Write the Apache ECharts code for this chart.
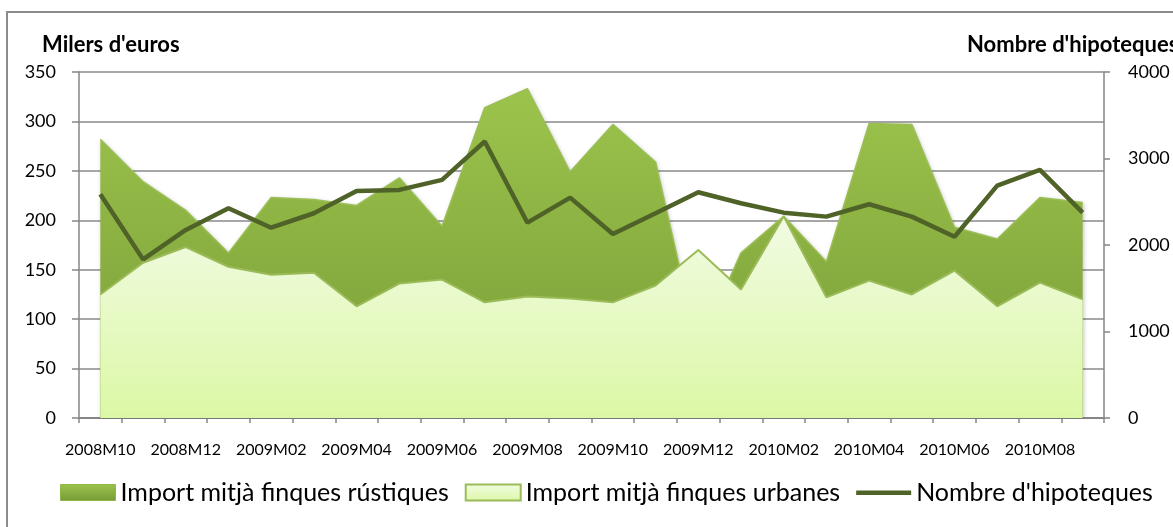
<!DOCTYPE html>
<html>
<head>
<meta charset="utf-8">
<script src="https://cdn.jsdelivr.net/npm/echarts@6/dist/echarts.min.js"></script>
<style>
html,body{margin:0;padding:0;background:#fff;}
#chart{width:1173px;height:527px;}
</style>
</head>
<body>
<div id="chart"></div>
<script>
const categories = [
  "2008M10","2008M11","2008M12","2009M01","2009M02","2009M03","2009M04","2009M05",
  "2009M06","2009M07","2009M08","2009M09","2009M10","2009M11","2009M12","2010M01",
  "2010M02","2010M03","2010M04","2010M05","2010M06","2010M07","2010M08","2010M09"
];
const rustiques = [282,239,210,167,223,221,215,243,194,314,333,249,297,259,70,167,204,158,298,297,193,181,223,218];
const urbanes = [125,157,173,153,145,147,113,136,140,117,123,121,117,134,170,130,204,122,139,125,149,113,137,120];
const hipoteques = [2587,1834,2174,2425,2200,2367,2625,2637,2753,3196,2258,2548,2127,2367,2610,2483,2374,2328,2471,2328,2096,2687,2868,2374];
const leftTicks = {min:0, max:350, interval:50};
const rightTicks = {min:0, max:4000, interval:1000};
const seriesNames = ["Import mitjà finques rústiques","Import mitjà finques urbanes","Nombre d'hipoteques"];
const axisTitles = ["Milers d'euros","Nombre d'hipoteques"];

const FONT = 'Lato, "Open Sans", sans-serif';
const rustGrad = {type:'linear',x:0,y:0,x2:0,y2:1,colorStops:[{offset:0,color:'#9cc44c'},{offset:1,color:'#779b37'}]};
const urbGrad = {type:'linear',x:0,y:0,x2:0,y2:1,colorStops:[{offset:0,color:'#f1fbe3'},{offset:1,color:'#dcf8a6'}]};
const legRust = {type:'linear',x:0,y:0,x2:0,y2:1,colorStops:[{offset:0,color:'#9cc44c'},{offset:1,color:'#779b37'}]};
const legUrb = {type:'linear',x:0,y:0,x2:0,y2:1,colorStops:[{offset:0,color:'#f1fbe3'},{offset:1,color:'#dcf8a6'}]};
const lineIcon = 'path://M0,0L0.01,0L0,0.01Z M0,6L55,6L55,10.5L0,10.5Z M55,16L54.99,16L55,15.99Z';

const chart = echarts.init(document.getElementById('chart'), null, {renderer:'canvas'});
chart.setOption({
  animation:false,
  backgroundColor:'#fff',
  title:[
    {text:axisTitles[0], left:37, top:29, textStyle:{fontFamily:FONT, fontSize:22, fontWeight:'bold', color:'#000'}},
    {text:axisTitles[1], left:962, top:29, textStyle:{fontFamily:FONT, fontSize:22, fontWeight:'bold', color:'#000'}}
  ],
  graphic:[{type:'rect', shape:{x:7,y:12,width:1300,height:700}, style:{fill:'none', stroke:'#8c8c8c', lineWidth:2}, silent:true}],
  grid:{left:79, right:69, top:72, bottom:109, containLabel:false},
  legend:{
    bottom:17, left:55, itemGap:16, itemWidth:55, itemHeight:16,
    textStyle:{fontFamily:FONT, fontSize:25, color:'#000'},
    data:[
      {name:seriesNames[0], icon:'rect', itemStyle:{color:legRust, borderColor:'#8fb447', borderWidth:1}},
      {name:seriesNames[1], icon:'rect', itemStyle:{color:legUrb, borderColor:'#9bbb59', borderWidth:2}},
      {name:seriesNames[2], icon:lineIcon, itemStyle:{color:'#4f6228', borderWidth:0}}
    ]
  },
  xAxis:{
    type:'category', data:categories, boundaryGap:true,
    axisLine:{lineStyle:{color:'#868686', width:2}},
    axisTick:{show:true, interval:0, length:5, lineStyle:{color:'#868686', width:1.5}},
    axisLabel:{interval:1, fontFamily:FONT, fontSize:16, color:'#000', margin:24}
  },
  yAxis:[
    {type:'value', min:leftTicks.min, max:leftTicks.max, interval:leftTicks.interval, position:'left',
     axisLine:{show:true, lineStyle:{color:'#868686', width:1.5}},
     axisTick:{show:true, length:7, lineStyle:{color:'#868686', width:1.5}},
     splitLine:{show:true, lineStyle:{color:'#8a8a8a', width:1.5}},
     axisLabel:{fontFamily:FONT, fontSize:18, color:'#000', margin:23}},
    {type:'value', min:rightTicks.min, max:rightTicks.max, interval:rightTicks.interval, position:'right',
     axisLine:{show:true, lineStyle:{color:'#868686', width:1.5}},
     axisTick:{show:true, length:6, lineStyle:{color:'#868686', width:1.5}},
     splitLine:{show:false},
     axisLabel:{fontFamily:FONT, fontSize:18, color:'#000', margin:24, formatter:(v)=>String(v)}}
  ],
  series:[
    {name:seriesNames[0], type:'line', data:rustiques, yAxisIndex:0, showSymbol:false, symbol:'none',
     lineStyle:{color:'#9bbf55', width:1.5},
     itemStyle:{color:'#8db145'},
     areaStyle:{color:rustGrad, opacity:1, shadowColor:'rgba(0,0,0,0.25)', shadowBlur:4, shadowOffsetX:1, shadowOffsetY:1},
     z:2},
    {name:seriesNames[1], type:'line', data:urbanes, yAxisIndex:0, showSymbol:false, symbol:'none',
     lineStyle:{color:'#9bbb59', width:2},
     itemStyle:{color:'#cfee98'},
     areaStyle:{color:urbGrad, opacity:1},
     z:3},
    {name:seriesNames[2], type:'line', data:hipoteques, yAxisIndex:1, showSymbol:false, symbol:'none',
     lineStyle:{color:'#4f6228', width:4.5},
     itemStyle:{color:'#4f6228'},
     z:4}
  ]
});
</script>
</body>
</html>
